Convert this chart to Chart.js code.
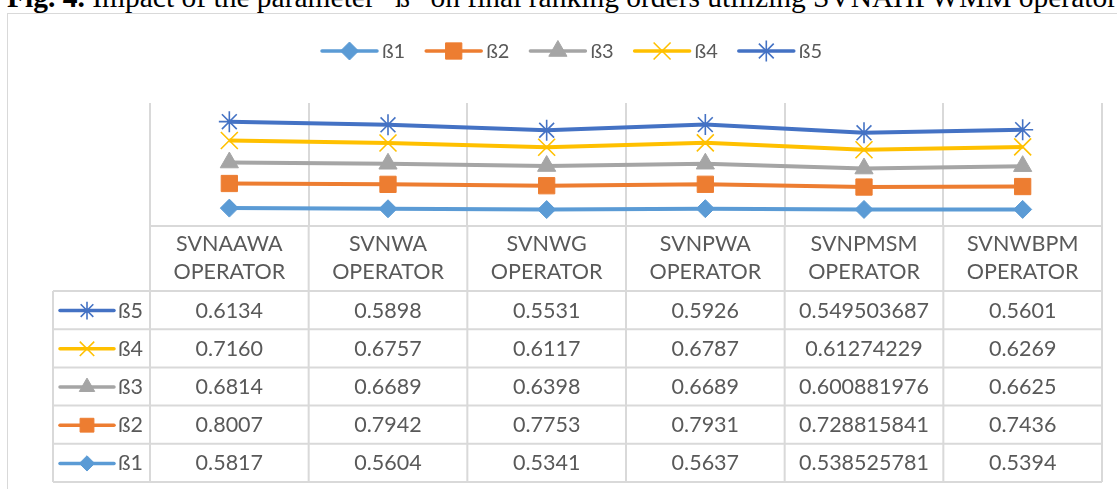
<!DOCTYPE html>
<html>
<head>
<meta charset="utf-8">
<script src="https://cdn.jsdelivr.net/npm/chart.js@4/dist/chart.umd.min.js"></script>
<style>
  html, body { margin: 0; padding: 0; background: #fff; width: 1117px; height: 489px; overflow: hidden; }
  #title { position: absolute; left: 7px; top: -17px; font-family: "Liberation Serif", "Times New Roman", serif;
           font-size: 26px; line-height: 30px; white-space: nowrap; color: #000; }
  #frame { position: absolute; left: 7px; top: 13px; width: 1130px; height: 500px;
           border: 1px solid #d9d9d9; box-sizing: border-box; }
  #wrap { position: absolute; left: 0; top: 0; width: 1117px; height: 489px; }
</style>
</head>
<body>
<div id="title"><b>Fig. 4.</b> Impact of the parameter “ß” on final ranking orders utilizing SVNAHPWMM operator</div>
<div id="frame"></div>
<div id="wrap"><canvas id="chart" width="1117" height="489"></canvas></div>
<script>
// Operators compared (two-line category labels)
const categories = [
  ['SVNAAWA', 'OPERATOR'],
  ['SVNWA', 'OPERATOR'],
  ['SVNWG', 'OPERATOR'],
  ['SVNPWA', 'OPERATOR'],
  ['SVNPMSM', 'OPERATOR'],
  ['SVNWBPM', 'OPERATOR']
];

// Scores for each value of the parameter ß
const seriesNames = ['ß1', 'ß2', 'ß3', 'ß4', 'ß5'];
const beta1 = [0.5817, 0.5604, 0.5341, 0.5637, 0.538525781, 0.5394];
const beta2 = [0.8007, 0.7942, 0.7753, 0.7931, 0.728815841, 0.7436];
const beta3 = [0.6814, 0.6689, 0.6398, 0.6689, 0.600881976, 0.6625];
const beta4 = [0.7160, 0.6757, 0.6117, 0.6787, 0.61274229, 0.6269];
const beta5 = [0.6134, 0.5898, 0.5531, 0.5926, 0.549503687, 0.5601];

// Decimal places shown in the data table per column (null = full precision)
const tableDecimals = [4, 4, 4, 4, null, 4];

// Fit the caption across the frame
(function () {
  const t = document.getElementById('title');
  const target = 1110;
  const w = t.getBoundingClientRect().width;
  const fs = 26 * target / w;
  t.style.fontSize = fs.toFixed(2) + 'px';
  const asc = 0.891 * fs, desc = 0.216 * fs;
  t.style.lineHeight = (asc + desc).toFixed(2) + 'px';
  t.style.top = (7 - asc).toFixed(2) + 'px';
})();

const colors = ['#5B9BD5', '#ED7D31', '#A5A5A5', '#FFC000', '#4472C4'];
const markers = [
  { style: 'rectRot', radius: 9, bw: 1 },
  { style: 'rect', radius: 11.5, bw: 1 },
  { style: 'triangle', radius: 10.5, bw: 1 },
  { style: 'crossRot', radius: 12, bw: 1.6 },
  { style: 'star', radius: 10.5, bw: 1.6 }
];
const values = [beta1, beta2, beta3, beta4, beta5];

const GRID = '#d9d9d9';
const TEXT = '#595959';
const FONT = 'Lato, "Open Sans", sans-serif';

function marker(ctx, i, x, y, scale) {
  const m = markers[i];
  ctx.save();
  ctx.fillStyle = colors[i];
  ctx.strokeStyle = colors[i];
  ctx.lineWidth = m.bw;
  Chart.helpers.drawPoint(ctx, { pointStyle: m.style, radius: m.radius * (scale || 1), rotation: 0, borderWidth: m.bw }, x, y);
  ctx.restore();
}

function keyLine(ctx, i, x0, x1, y, scale) {
  ctx.save();
  ctx.strokeStyle = colors[i];
  ctx.lineWidth = 3.5;
  ctx.lineCap = 'round';
  ctx.beginPath();
  ctx.moveTo(x0, y);
  ctx.lineTo(x1, y);
  ctx.stroke();
  ctx.restore();
  marker(ctx, i, (x0 + x1) / 2, y, scale);
}

function formatCell(v, col) {
  const d = tableDecimals[col];
  return d == null ? String(v) : v.toFixed(d);
}

// Legend across the top: line + marker key followed by the series name
const topLegend = {
  id: 'topLegend',
  afterDraw(chart) {
    const ctx = chart.ctx;
    ctx.save();
    ctx.font = '20px ' + FONT;
    ctx.textBaseline = 'middle';
    ctx.fillStyle = TEXT;
    const lineLen = 55, gapText = 5, gapItem = 21;
    const widths = seriesNames.map(s => ctx.measureText(s).width);
    const total = widths.reduce((a, w) => a + lineLen + gapText + w, 0) + gapItem * (seriesNames.length - 1);
    let x = 572 - total / 2;
    const y = 51;
    seriesNames.forEach((s, i) => {
      keyLine(ctx, i, x, x + lineLen, y, 1);
      ctx.fillStyle = TEXT;
      ctx.textAlign = 'left';
      ctx.fillText(s, x + lineLen + gapText, y + 1);
      x += lineLen + gapText + widths[i] + gapItem;
    });
    ctx.restore();
  }
};

// Data table under the plot, columns aligned with the category scale
const dataTable = {
  id: 'dataTable',
  afterDraw(chart) {
    const ctx = chart.ctx;
    const xs = chart.scales.x;
    const area = chart.chartArea;
    const n = categories.length;
    const colW = (area.right - area.left) / n;
    const top = area.bottom;
    const headerH = 65;
    const rowH = 38.2;
    const keyLeft = 53;
    const rows = seriesNames.length;
    const bottom = top + headerH + rows * rowH;

    ctx.save();
    ctx.strokeStyle = GRID;
    ctx.lineWidth = 2;
    ctx.beginPath();
    // header top
    ctx.moveTo(area.left, top); ctx.lineTo(area.right, top);
    // row separators
    for (let r = 0; r <= rows; r++) {
      const y = top + headerH + r * rowH;
      ctx.moveTo(keyLeft, y); ctx.lineTo(area.right, y);
    }
    // column separators
    for (let c = 0; c <= n; c++) {
      const x = area.left + c * colW;
      ctx.moveTo(x, top); ctx.lineTo(x, bottom);
    }
    ctx.moveTo(keyLeft, top + headerH); ctx.lineTo(keyLeft, bottom);
    ctx.stroke();

    ctx.fillStyle = TEXT;
    ctx.font = '21.5px ' + FONT;
    ctx.textAlign = 'center';
    ctx.textBaseline = 'middle';
    categories.forEach((lab, c) => {
      const cx = xs.getPixelForValue(c);
      ctx.fillText(lab[0], cx, top + 18.5);
      ctx.fillText(lab[1], cx, top + 46);
    });

    for (let r = 0; r < rows; r++) {
      const s = rows - 1 - r;
      const cy = top + headerH + r * rowH + rowH / 2 + 0.5;
      keyLine(ctx, s, 60, 114, cy, 0.85);
      ctx.fillStyle = TEXT;
      ctx.textAlign = 'left';
      ctx.fillText(seriesNames[s], 118, cy);
      ctx.textAlign = 'center';
      values[s].forEach((v, c) => {
        ctx.fillText(formatCell(v, c), xs.getPixelForValue(c), cy);
      });
    }
    ctx.restore();
  }
};

new Chart(document.getElementById('chart'), {
  type: 'line',
  data: {
    labels: categories,
    datasets: values.map((vals, i) => ({
      label: seriesNames[i],
      data: vals,
      borderColor: colors[i],
      backgroundColor: colors[i],
      borderWidth: 4,
      pointStyle: markers[i].style,
      pointRadius: markers[i].radius,
      pointBorderWidth: markers[i].bw,
      pointBackgroundColor: colors[i],
      pointBorderColor: colors[i],
      tension: 0,
      fill: false
    }))
  },
  options: {
    responsive: false,
    animation: false,
    layout: { padding: { left: 150, right: 15, top: 103, bottom: 263 } },
    plugins: { legend: { display: false }, tooltip: { enabled: false } },
    scales: {
      x: {
        offset: true,
        grid: { offset: true, color: GRID, lineWidth: 2, drawTicks: false },
        ticks: { display: false },
        border: { display: false }
      },
      y: {
        stacked: true,
        min: 0,
        max: 4,
        display: false
      }
    }
  },
  plugins: [topLegend, dataTable]
});
</script>
</body>
</html>
